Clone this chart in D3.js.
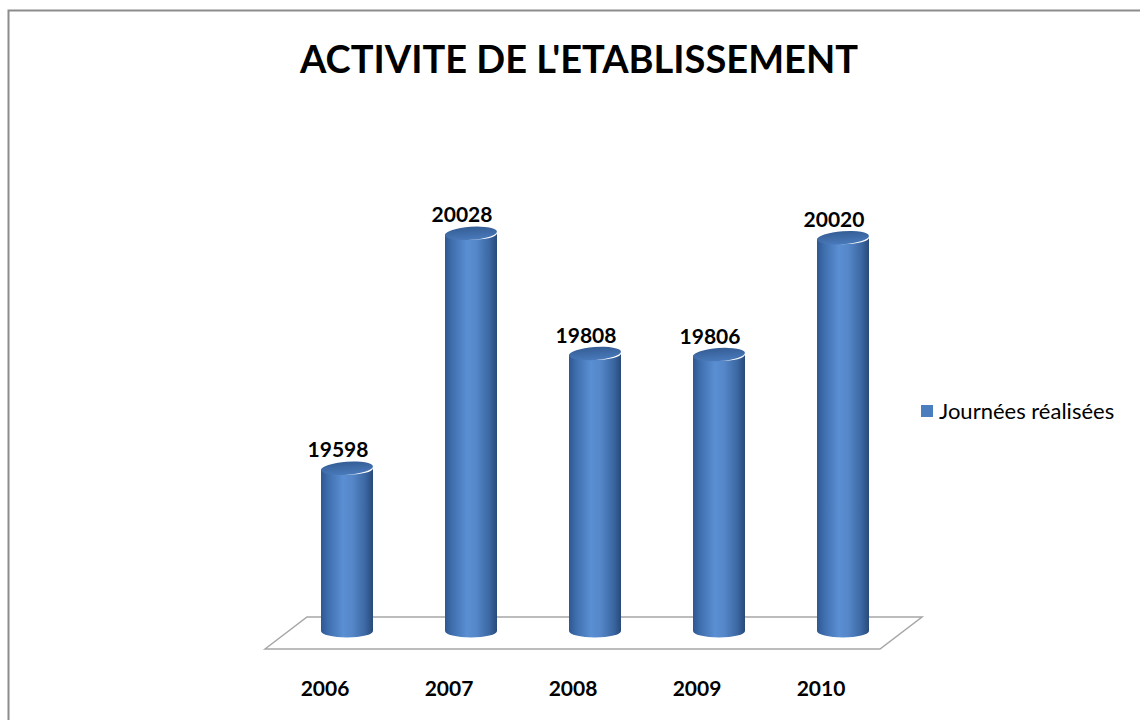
<!DOCTYPE html>
<html>
<head>
<meta charset="utf-8">
<script src="https://cdn.jsdelivr.net/npm/d3@7"></script>
<style>
  body { margin: 0; background: #fff; }
  text { font-family: Lato, "Open Sans", sans-serif; }
</style>
</head>
<body>
<div id="chart"></div>
<script>
// data
const years = ["2006", "2007", "2008", "2009", "2010"];
const journees = [19598, 20028, 19808, 19806, 20020];
const seriesName = "Journées réalisées";
const title = "ACTIVITE DE L'ETABLISSEMENT";

const width = 1140, height = 720;

const svg = d3.select("#chart").append("svg")
    .attr("width", width)
    .attr("height", height);

svg.append("rect")
    .attr("width", width).attr("height", height)
    .attr("fill", "#fff");

// chart border (right / bottom run off the page)
svg.append("rect")
    .attr("x", 8.5).attr("y", 10.5)
    .attr("width", 1200).attr("height", 800)
    .attr("fill", "none")
    .attr("stroke", "#8c8c8c")
    .attr("stroke-width", 2);

svg.append("text")
    .attr("x", 579).attr("y", 73)
    .attr("text-anchor", "middle")
    .style("font-size", "38px")
    .style("font-weight", "bold")
    .attr("fill", "#000")
    .text(title);

const x = d3.scalePoint().domain(years).range([285, 905]).padding(0.5);
const y = d3.scaleLinear().domain([19300, 20100]).range([631, 194]);
const r = 26, ry = 6.5;

// gradients
const defs = svg.append("defs");
const bodyGrad = defs.append("linearGradient").attr("id", "body")
    .attr("x1", "0%").attr("x2", "100%").attr("y1", "0%").attr("y2", "0%");
[[0, "#2e5790"], [0.12, "#3d6cab"], [0.42, "#5a8fd3"], [0.6, "#5587c9"], [0.85, "#3c68a3"], [1, "#284a7a"]]
    .forEach(s => bodyGrad.append("stop").attr("offset", s[0]).attr("stop-color", s[1]));
const topGrad = defs.append("linearGradient").attr("id", "topcap")
    .attr("x1", "0%").attr("x2", "0%").attr("y1", "0%").attr("y2", "100%");
[[0, "#345d95"], [1, "#4a7abb"]]
    .forEach(s => topGrad.append("stop").attr("offset", s[0]).attr("stop-color", s[1]));

// floor
const floorBack = 617, floorFront = 649;
svg.append("path")
    .attr("d", `M265,${floorFront} L307,${floorBack} L922,${floorBack} L880,${floorFront} Z`)
    .attr("fill", "none")
    .attr("stroke", "#a6a6a6")
    .attr("stroke-width", 1.5);

const bars = svg.selectAll(".bar")
    .data(years.map((d, i) => ({year: d, value: journees[i]})))
    .enter().append("g").attr("class", "bar");

bars.append("path")
    .attr("d", d => {
        const cx = x(d.year), yt = y(d.value), yb = y(19300);
        return `M${cx - r},${yt} L${cx - r},${yb} A${r},${ry} 0 0 0 ${cx + r},${yb} L${cx + r},${yt} A${r},${ry} 0 0 1 ${cx - r},${yt} Z`;
    })
    .attr("fill", "url(#body)");

bars.append("ellipse")
    .attr("cx", d => x(d.year))
    .attr("cy", d => y(d.value))
    .attr("rx", r).attr("ry", ry)
    .attr("transform", d => `rotate(-4, ${x(d.year)}, ${y(d.value)})`)
    .attr("fill", "url(#topcap)");

// value labels sit a little left of the cylinder (3D perspective)
bars.append("text")
    .attr("x", d => x(d.year) - 9)
    .attr("y", d => y(d.value) - 11)
    .attr("text-anchor", "middle")
    .style("font-size", "21px")
    .style("font-weight", "bold")
    .text(d => d.value);

// category labels, on the front edge of the floor
svg.selectAll(".xlab")
    .data(years)
    .enter().append("text")
    .attr("class", "xlab")
    .attr("x", d => x(d) - 22)
    .attr("y", 696)
    .attr("text-anchor", "middle")
    .style("font-size", "21px")
    .style("font-weight", "bold")
    .text(d => d);

// legend
svg.append("rect")
    .attr("x", 921).attr("y", 405)
    .attr("width", 12).attr("height", 12)
    .attr("fill", "#4a7ebf");
svg.append("text")
    .attr("x", 939).attr("y", 419)
    .style("font-size", "22px")
    .text(seriesName);
</script>
</body>
</html>
